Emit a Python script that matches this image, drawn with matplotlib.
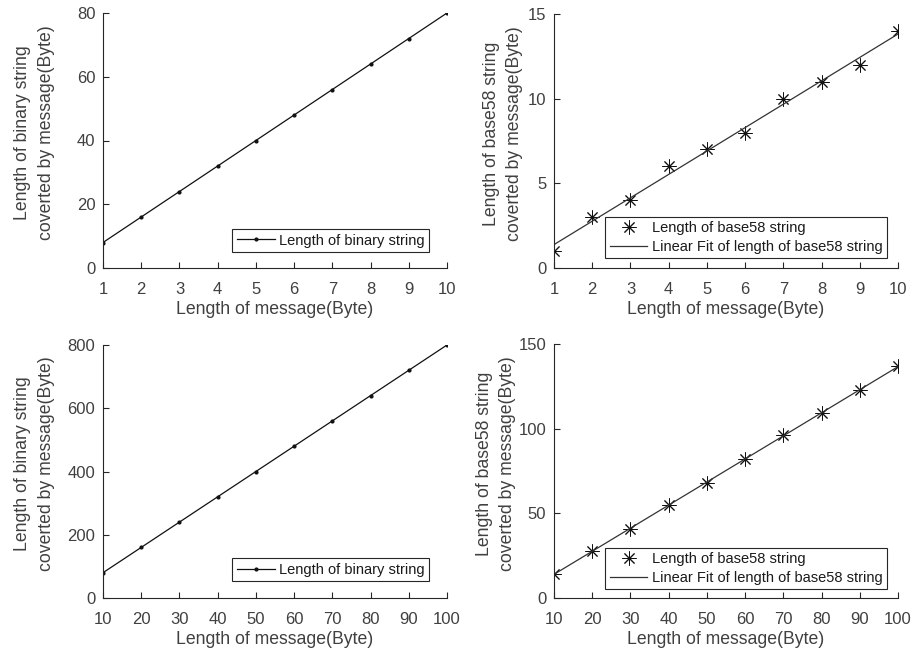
import numpy as np
import matplotlib
matplotlib.use("Agg")
import matplotlib.pyplot as plt

# ─── data ─────────────────────────────────────────────────────────────────────
msg_small = [1, 2, 3, 4, 5, 6, 7, 8, 9, 10]
bin_small = [8, 16, 24, 32, 40, 48, 56, 64, 72, 80]
b58_small = [1, 3, 4, 6, 7, 8, 10, 11, 12, 14]

msg_large = [10, 20, 30, 40, 50, 60, 70, 80, 90, 100]
bin_large = [80, 160, 240, 320, 400, 480, 560, 640, 720, 800]
b58_large = [14, 28, 41, 55, 68, 82, 96, 109, 123, 137]

xlabel = "Length of message(Byte)"
ylabel_bin = "Length of binary string\ncoverted by message(Byte)"
ylabel_b58 = "Length of base58 string\ncoverted by message(Byte)"
# ──────────────────────────────────────────────────────────────────────────────

plt.rcParams["font.family"] = ["Liberation Sans", "DejaVu Sans"]
AX_COL = "#262626"
TXT_COL = "#404040"


def style_axes(ax, ylabel, ylab_x):
    for side in ("top", "right"):
        ax.spines[side].set_visible(False)
    for side in ("left", "bottom"):
        ax.spines[side].set_color(AX_COL)
        ax.spines[side].set_linewidth(0.8)
    ax.tick_params(direction="in", length=4, width=0.8, colors=AX_COL,
                   labelcolor=TXT_COL, labelsize=12)
    ax.tick_params(axis="x", pad=10)
    ax.tick_params(axis="y", pad=5.5)
    ax.set_xlabel(xlabel, fontsize=12.7, color=TXT_COL, labelpad=3)
    ax.set_ylabel(ylabel, fontsize=12.7, color=TXT_COL, linespacing=1.5)
    ax.yaxis.set_label_coords(ylab_x, 0.53)


def add_legend(ax, anchor):
    leg = ax.legend(loc="lower right", bbox_to_anchor=anchor, borderaxespad=0,
                    fontsize=10.5, fancybox=False, framealpha=1,
                    edgecolor=AX_COL, borderpad=0.3, handlelength=2.6,
                    handletextpad=0.3, labelspacing=0.3)
    leg.get_frame().set_linewidth(0.8)
    for t in leg.get_texts():
        t.set_color("#1a1a1a")


def binary_panel(ax, x, y, yticks, anchor, ylab_x):
    ax.plot(x, y, color="#111111", lw=0.9, marker=".", ms=4,
            label="Length of binary string")
    ax.set_xlim(x[0], x[-1])
    ax.set_ylim(0, yticks[-1])
    ax.set_xticks(x)
    ax.set_yticks(yticks)
    style_axes(ax, ylabel_bin, ylab_x)
    add_legend(ax, anchor)


def base58_panel(ax, x, y, yticks, anchor, ylab_x):
    k, b = np.polyfit(x, y, 1)
    xs = np.array([x[0], x[-1]])
    ax.plot(x, y, ls="none", marker=(8, 2, 0), ms=10, mew=0.7,
            color="#111111", label="Length of base58 string")
    ax.plot(xs, k * xs + b, color="#333333", lw=0.9,
            label="Linear Fit of length of base58 string")
    ax.set_xlim(x[0], x[-1])
    ax.set_ylim(0, yticks[-1])
    ax.set_xticks(x)
    ax.set_yticks(yticks)
    style_axes(ax, ylabel_b58, ylab_x)
    add_legend(ax, anchor)


fig = plt.figure(figsize=(9.12, 6.53), dpi=100)
W, H = 912, 653
ax1 = fig.add_axes([103 / W, 1 - 268 / H, 344 / W, 255 / H])
ax2 = fig.add_axes([554 / W, 1 - 268 / H, 344 / W, 254 / H])
ax3 = fig.add_axes([103 / W, 1 - 598 / H, 344 / W, 253 / H])
ax4 = fig.add_axes([554 / W, 1 - 598 / H, 344 / W, 254 / H])

binary_panel(ax1, msg_small, bin_small, [0, 20, 40, 60, 80],
             (0.948, 0.063), -0.14)
base58_panel(ax2, msg_small, b58_small, [0, 5, 10, 15],
             (0.968, 0.039), -0.09)
binary_panel(ax3, msg_large, bin_large, [0, 200, 400, 600, 800],
             (0.948, 0.067), -0.14)
base58_panel(ax4, msg_large, b58_large, [0, 50, 100, 150],
             (0.968, 0.035), -0.11)

fig.savefig("out.png", dpi=100, facecolor="white")
